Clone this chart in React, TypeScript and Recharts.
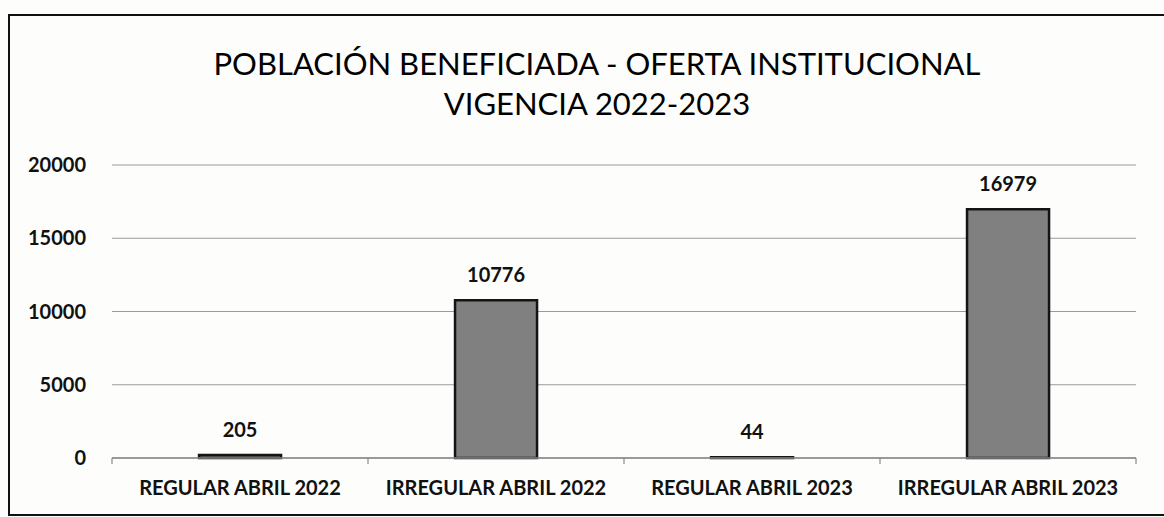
import { BarChart, Bar, XAxis, YAxis, CartesianGrid, LabelList } from 'recharts';

const categories = ['REGULAR ABRIL 2022', 'IRREGULAR ABRIL 2022', 'REGULAR ABRIL 2023', 'IRREGULAR ABRIL 2023'];
const beneficiaries = [205, 10776, 44, 16979];
const yTicks = [0, 5000, 10000, 15000, 20000];

const data = categories.map((name, i) => ({ name, value: beneficiaries[i] }));

const FONT = 'Lato, "Open Sans", sans-serif';

// category label plus Excel-style tick marks between categories
function CategoryTick(props: any) {
  const { x, y, payload, index, visibleTicksCount } = props;
  const half = payload?.offset ?? 0;
  const left = x - half;
  const right = x + half;
  const isLast = index === visibleTicksCount - 1;
  return (
    <g>
      <line x1={left} x2={left} y1={y} y2={y + 6} stroke="#8a8a8a" strokeWidth={1.2} />
      {isLast && <line x1={right} x2={right} y1={y} y2={y + 6} stroke="#8a8a8a" strokeWidth={1.2} />}
      <text
        x={x}
        y={y + 37}
        textAnchor="middle"
        fill="#111"
        fontSize={20}
        fontWeight={700}
        fontFamily={FONT}
      >
        {payload.value}
      </text>
    </g>
  );
}

export default function App() {
  return (
    <div
      style={{
        position: 'absolute',
        left: 0,
        top: 0,
        width: 1164,
        height: 517,
        overflow: 'hidden',
        background: '#fdfdfc',
        fontFamily: FONT,
      }}
    >
      {/* frame of the original chart box */}
      <div
        style={{
          position: 'absolute',
          left: 8,
          top: 14,
          width: 1200,
          height: 498,
          borderTop: '2px solid #111',
          borderLeft: '2px solid #111',
          borderBottom: '2px solid #111',
        }}
      />
      <div
        style={{
          position: 'absolute',
          left: 0,
          width: 1194,
          top: 43,
          textAlign: 'center',
          fontSize: 31,
          lineHeight: '40px',
          color: '#000',
        }}
      >
        POBLACIÓN BENEFICIADA - OFERTA INSTITUCIONAL
        <br />
        VIGENCIA 2022-2023
      </div>
      <BarChart
        width={1164}
        height={517}
        data={data}
        margin={{ top: 165, right: 28, bottom: 29, left: 0 }}
        barCategoryGap="34%"
        style={{ position: 'absolute', left: 0, top: 0 }}
      >
        <CartesianGrid vertical={false} stroke="#9a9a9a" strokeWidth={1.2} />
        <XAxis
          dataKey="name"
          axisLine={{ stroke: '#8a8a8a', strokeWidth: 1.5 }}
          tickLine={false}
          tickSize={0}
          tickMargin={0}
          interval={0}
          height={30}
          tick={<CategoryTick />}
        />
        <YAxis
          domain={[0, 20000]}
          ticks={yTicks}
          axisLine={false}
          tickLine={false}
          tickSize={0}
          tickMargin={26}
          width={112}
          tick={{ fill: '#111', fontSize: 20, fontWeight: 700, fontFamily: FONT }}
        />
        <Bar dataKey="value" fill="#808080" stroke="#141414" strokeWidth={2.5} isAnimationActive={false}>
          <LabelList
            dataKey="value"
            position="top"
            offset={18}
            fill="#111"
            fontSize={20}
            fontWeight={700}
            fontFamily={FONT}
          />
        </Bar>
      </BarChart>
    </div>
  );
}
